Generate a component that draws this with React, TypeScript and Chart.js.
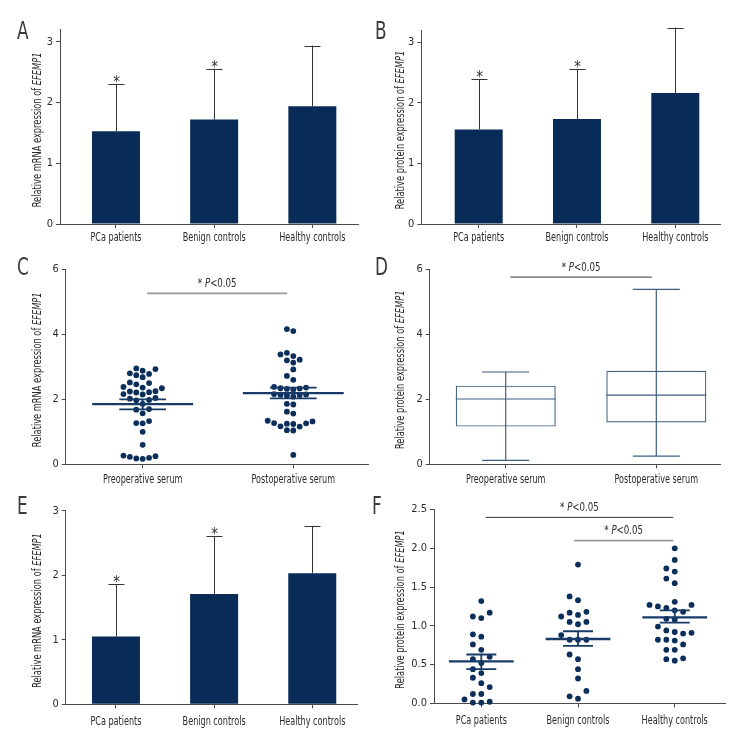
import React, { useEffect, useRef } from "react";
import { Chart, registerables } from "chart.js";
Chart.register(...registerables);

const FAMILY = '"Liberation Sans Narrow", "DejaVu Sans Condensed", "Open Sans", sans-serif';
const TEXT = "#2b2b2b";
const AXIS = "#4a4a4a";
const NAVY = "#082c57";
const DOT = "#0b2e5a";
const LINE_NAVY = "#173b66";
const BOX = "#3c5d80";
const GRAY = "#9a9a9a";

// ---------- data ----------
const CATS3 = ["PCa patients", "Benign controls", "Healthy controls"];
const CATS2 = ["Preoperative serum", "Postoperative serum"];

const A_MEAN = [1.53, 1.72, 1.94];
const A_SD_TOP = [2.31, 2.56, 2.94];
const A_STAR = [true, true, false];

const B_MEAN = [1.56, 1.73, 2.16];
const B_SD_TOP = [2.39, 2.56, 3.24];
const B_STAR = [true, true, false];

const C_PRE = [2.95, 2.93, 2.88, 2.8, 2.78, 2.74, 2.68, 2.52, 2.5, 2.46, 2.38, 2.36, 2.34, 2.25, 2.24, 2.22, 2.21, 2.16, 2.15, 2.04, 2.02, 1.98, 1.97, 1.86, 1.7, 1.68, 1.57, 1.33, 1.27, 1.26, 1.0, 0.6, 0.27, 0.25, 0.23, 0.2, 0.18, 0.17];
const C_POST = [4.16, 4.1, 3.43, 3.38, 3.33, 3.22, 3.2, 3.13, 2.92, 2.72, 2.6, 2.38, 2.36, 2.34, 2.33, 2.32, 2.3, 2.16, 2.15, 2.14, 2.13, 2.12, 2.08, 1.86, 1.84, 1.62, 1.56, 1.34, 1.32, 1.27, 1.26, 1.25, 1.24, 1.17, 1.16, 1.05, 1.04, 0.29];
const C_MEAN = [1.85, 2.19];
const C_SEM_LOW = [1.69, 2.03];
const C_SEM_HIGH = [2.0, 2.36];

const D_MIN = [0.12, 0.25];
const D_Q1 = [1.16, 1.29];
const D_MEDIAN = [2.01, 2.13];
const D_Q3 = [2.42, 2.88];
const D_MAX = [2.84, 5.38];

const E_MEAN = [1.05, 1.71, 2.03];
const E_SD_TOP = [1.86, 2.61, 2.76];
const E_STAR = [true, true, false];

const F_PCA = [1.32, 1.17, 1.12, 1.1, 0.89, 0.86, 0.76, 0.69, 0.6, 0.57, 0.52, 0.44, 0.39, 0.33, 0.26, 0.21, 0.12, 0.12, 0.05, 0.02, 0.01, 0.01];
const F_BENIGN = [1.79, 1.38, 1.33, 1.18, 1.17, 1.14, 1.12, 1.05, 1.05, 1.02, 0.88, 0.82, 0.82, 0.82, 0.63, 0.57, 0.44, 0.32, 0.16, 0.09, 0.06];
const F_HEALTHY = [2.0, 1.85, 1.74, 1.7, 1.61, 1.55, 1.31, 1.27, 1.27, 1.25, 1.23, 1.2, 1.18, 1.09, 1.08, 0.99, 0.94, 0.92, 0.91, 0.9, 0.82, 0.82, 0.81, 0.76, 0.69, 0.69, 0.58, 0.57, 0.55];
const F_MEAN = [0.54, 0.83, 1.11];
const F_SEM_LOW = [0.44, 0.74, 1.04];
const F_SEM_HIGH = [0.63, 0.93, 1.2];

const TICKS_3 = [0, 1, 2, 3];
const TICKS_6 = [0, 2, 4, 6];
const TICKS_F = [0, 0.5, 1, 1.5, 2, 2.5];

const LABEL_MRNA = "Relative mRNA expression of ";
const LABEL_PROTEIN = "Relative protein expression of ";
const GENE = "EFEMP1";
const SIG_TEXT = "P<0.05";

// ---------- layout ----------
type Rect = { x: number; y: number; w: number; h: number };
type Area = { l: number; t: number; r: number; b: number };
type Sig = { from: number; to: number; y: number; color: string; width: number };

interface Panel {
  letter: string;
  letterPos: [number, number];
  canvas: Rect;
  area: Area;
  xMin: number;
  xMax: number;
  yMin: number;
  yMax: number;
  yTicks: number[];
  yFmt: (v: number) => string;
  cats: string[];
  xLabelOffset: number;
  yLabel: string;
  labelX: number;
  kind: "bar" | "dot" | "box";
  mean?: number[];
  sdTop?: number[];
  star?: boolean[];
  groups?: number[][];
  semLow?: number[];
  semHigh?: number[];
  swarmD?: number;
  sigs?: Sig[];
}

const PANELS: Panel[] = [
  {
    letter: "A", letterPos: [17, 19],
    canvas: { x: 0, y: 0, w: 378, h: 250 }, area: { l: 60, t: 29.8, r: 358, b: 224 },
    xMin: -0.57, xMax: 2.465, yMin: 0, yMax: 3.2, yTicks: TICKS_3, yFmt: (v) => String(v),
    cats: CATS3, xLabelOffset: 13.5, yLabel: LABEL_MRNA, labelX: 38, kind: "bar",
    mean: A_MEAN, sdTop: A_SD_TOP, star: A_STAR,
  },
  {
    letter: "B", letterPos: [375, 19],
    canvas: { x: 378, y: 0, w: 378, h: 250 }, area: { l: 421.3, t: 30, r: 720, b: 224 },
    xMin: -0.584, xMax: 2.455, yMin: 0, yMax: 3.2, yTicks: TICKS_3, yFmt: (v) => String(v),
    cats: CATS3, xLabelOffset: 13.5, yLabel: LABEL_PROTEIN, labelX: 401, kind: "bar",
    mean: B_MEAN, sdTop: B_SD_TOP, star: B_STAR,
  },
  {
    letter: "C", letterPos: [17, 255],
    canvas: { x: 0, y: 250, w: 378, h: 250 }, area: { l: 65.7, t: 269.3, r: 368, b: 464.3 },
    xMin: -0.511, xMax: 1.496, yMin: 0, yMax: 6, yTicks: TICKS_6, yFmt: (v) => String(v),
    cats: CATS2, xLabelOffset: 15.5, yLabel: LABEL_MRNA, labelX: 38, kind: "dot",
    groups: [C_PRE, C_POST], mean: C_MEAN, semLow: C_SEM_LOW, semHigh: C_SEM_HIGH, swarmD: 6.4,
    sigs: [{ from: 0.03, to: 0.96, y: 5.26, color: GRAY, width: 1.6 }],
  },
  {
    letter: "D", letterPos: [375, 255],
    canvas: { x: 378, y: 250, w: 378, h: 250 }, area: { l: 429.7, t: 269.3, r: 720, b: 464.3 },
    xMin: -0.505, xMax: 1.423, yMin: 0, yMax: 6, yTicks: TICKS_6, yFmt: (v) => String(v),
    cats: CATS2, xLabelOffset: 15.5, yLabel: LABEL_PROTEIN, labelX: 401, kind: "box",
    sigs: [{ from: 0.03, to: 0.97, y: 5.76, color: "#333333", width: 1 }],
  },
  {
    letter: "E", letterPos: [17, 494],
    canvas: { x: 0, y: 500, w: 378, h: 256 }, area: { l: 65.7, t: 510.7, r: 357.7, b: 704.3 },
    xMin: -0.512, xMax: 2.463, yMin: 0, yMax: 3, yTicks: TICKS_3, yFmt: (v) => String(v),
    cats: CATS3, xLabelOffset: 17.5, yLabel: LABEL_MRNA, labelX: 38, kind: "bar",
    mean: E_MEAN, sdTop: E_SD_TOP, star: E_STAR,
  },
  {
    letter: "F", letterPos: [372, 494],
    canvas: { x: 378, y: 500, w: 378, h: 256 }, area: { l: 434, t: 509.3, r: 725.7, b: 703.3 },
    xMin: -0.489, xMax: 2.527, yMin: 0, yMax: 2.5, yTicks: TICKS_F, yFmt: (v) => v.toFixed(1),
    cats: CATS3, xLabelOffset: 17.5, yLabel: LABEL_PROTEIN, labelX: 401, kind: "dot",
    groups: [F_PCA, F_BENIGN, F_HEALTHY], mean: F_MEAN, semLow: F_SEM_LOW, semHigh: F_SEM_HIGH, swarmD: 8.4,
    sigs: [
      { from: 0.045, to: 1.985, y: 2.4, color: "#333333", width: 1 },
      { from: 0.96, to: 1.985, y: 2.1, color: GRAY, width: 1.6 },
    ],
  },
];

// beeswarm layout: horizontal offsets (in x units) so that dots don't overlap
function swarm(values: number[], pxPerY: number, pxPerX: number, d: number): number[] {
  const order = values.map((_, i) => i).sort((a, b) => values[a] - values[b]);
  const placed: { x: number; y: number }[] = [];
  const off = new Array(values.length).fill(0);
  for (const i of order) {
    const y = values[i] * pxPerY;
    for (let k = 0; k < 60; k++) {
      const cand = k === 0 ? 0 : (k % 2 ? -1 : 1) * Math.ceil(k / 2) * d;
      if (placed.every((p) => Math.hypot(p.x - cand, p.y - y) >= d - 0.01)) {
        off[i] = cand / pxPerX;
        placed.push({ x: cand, y });
        break;
      }
    }
  }
  return off;
}

function font(size: number, italic = false) {
  return `${italic ? "italic " : ""}${size}px ${FAMILY}`;
}

// draws (optionally mixed-style) text centred at (cx, cy), horizontally condensed by sx
function drawMixed(
  ctx: CanvasRenderingContext2D,
  parts: { t: string; it: boolean }[],
  size: number,
  cx: number,
  cy: number,
  sx: number
) {
  ctx.save();
  ctx.translate(cx, cy);
  ctx.scale(sx, 1);
  const widths = parts.map((p) => {
    ctx.font = font(size, p.it);
    return ctx.measureText(p.t).width;
  });
  const total = widths.reduce((a, b) => a + b, 0);
  let x = -total / 2;
  ctx.textBaseline = "middle";
  ctx.textAlign = "left";
  parts.forEach((p, i) => {
    ctx.font = font(size, p.it);
    ctx.fillText(p.t, x, 0);
    x += widths[i];
  });
  ctx.restore();
}

function buildConfig(p: Panel): any {
  const pxPerY = (p.area.b - p.area.t) / (p.yMax - p.yMin);
  const pxPerX = (p.area.r - p.area.l) / (p.xMax - p.xMin);
  let type = "bar";
  let datasets: any[] = [];
  if (p.kind === "bar") {
    datasets = [{
      data: (p.mean || []).map((v, i) => ({ x: i, y: v })),
      backgroundColor: NAVY,
      borderWidth: 0,
      barPercentage: 48 / pxPerX,
      categoryPercentage: 1,
    }];
  } else if (p.kind === "box") {
    datasets = [{
      data: D_Q1.map((q1, i) => ({ x: i, y: [q1, D_Q3[i]] })),
      backgroundColor: "rgba(0,0,0,0)",
      borderColor: BOX,
      borderWidth: 1.2,
      borderSkipped: false,
      barPercentage: 100 / pxPerX,
      categoryPercentage: 1,
    }];
  } else {
    type = "scatter";
    datasets = (p.groups || []).map((vals, gi) => {
      const off = swarm(vals, pxPerY, pxPerX, p.swarmD || 7);
      return {
        data: vals.map((v, k) => ({ x: gi + off[k], y: v })),
        pointRadius: 2.9,
        pointBackgroundColor: DOT,
        pointBorderWidth: 0,
        pointHoverRadius: 2.9,
        showLine: false,
        clip: false,
      };
    });
  }

  const extras = {
    id: "extras" + p.letter,
    afterDatasetsDraw(chart: any) {
      const { ctx } = chart;
      const xs = chart.scales.x;
      const ys = chart.scales.y;
      const X = (v: number) => xs.getPixelForValue(v);
      const Y = (v: number) => ys.getPixelForValue(v);
      const area = chart.chartArea;
      ctx.save();
      if (p.kind === "bar" && p.mean && p.sdTop) {
        ctx.strokeStyle = "#333333";
        ctx.lineWidth = 1;
        p.mean.forEach((m, i) => {
          const top = p.sdTop![i];
          const cx = Math.round(X(i)) + 0.5;
          ctx.beginPath();
          ctx.moveTo(cx, Y(m));
          ctx.lineTo(cx, Y(top));
          ctx.moveTo(cx - 8, Math.round(Y(top)) + 0.5);
          ctx.lineTo(cx + 8, Math.round(Y(top)) + 0.5);
          ctx.stroke();
          if (p.star && p.star[i]) {
            ctx.fillStyle = "#333333";
            ctx.font = font(15);
            ctx.textAlign = "center";
            ctx.textBaseline = "alphabetic";
            ctx.fillText("*", cx, Y(top) + 3);
          }
        });
      }
      if (p.kind === "dot" && p.mean) {
        ctx.strokeStyle = LINE_NAVY;
        p.mean.forEach((m, i) => {
          const lo = p.semLow![i];
          const hi = p.semHigh![i];
          ctx.lineWidth = 2.3;
          ctx.beginPath();
          ctx.moveTo(X(i - 0.335), Y(m));
          ctx.lineTo(X(i + 0.335), Y(m));
          ctx.stroke();
          ctx.lineWidth = 1.8;
          ctx.beginPath();
          ctx.moveTo(X(i - 0.155), Y(lo));
          ctx.lineTo(X(i + 0.155), Y(lo));
          ctx.moveTo(X(i - 0.155), Y(hi));
          ctx.lineTo(X(i + 0.155), Y(hi));
          ctx.moveTo(X(i), Y(lo));
          ctx.lineTo(X(i), Y(hi));
          ctx.stroke();
        });
      }
      if (p.kind === "box") {
        ctx.strokeStyle = BOX;
        ctx.lineWidth = 1.2;
        D_MIN.forEach((mn, i) => {
          const cx = X(i);
          const half = 50;
          const cap = 23.5;
          ctx.beginPath();
          ctx.moveTo(cx, Y(D_MAX[i]));
          ctx.lineTo(cx, Y(mn));
          ctx.moveTo(cx - cap, Y(D_MAX[i]));
          ctx.lineTo(cx + cap, Y(D_MAX[i]));
          ctx.moveTo(cx - cap, Y(mn));
          ctx.lineTo(cx + cap, Y(mn));
          ctx.moveTo(cx - half, Y(D_MEDIAN[i]));
          ctx.lineTo(cx + half, Y(D_MEDIAN[i]));
          ctx.stroke();
        });
      }
      ctx.fillStyle = TEXT;
      (p.sigs || []).forEach((s) => {
        ctx.strokeStyle = s.color;
        ctx.lineWidth = s.width;
        const yy = Y(s.y);
        ctx.beginPath();
        ctx.moveTo(X(s.from), yy);
        ctx.lineTo(X(s.to), yy);
        ctx.stroke();
        drawMixed(
          ctx,
          [{ t: "* ", it: false }, { t: "P", it: true }, { t: SIG_TEXT.slice(1), it: false }],
          12,
          (X(s.from) + X(s.to)) / 2,
          yy - 9.5,
          0.8
        );
      });
      // category labels (condensed) under the x axis, at the scale's tick positions
      p.cats.forEach((c, i) => {
        drawMixed(ctx, [{ t: c, it: false }], 12.5, X(i), area.bottom + p.xLabelOffset, 0.72);
      });
      // y-axis title
      ctx.translate(p.labelX - p.canvas.x, (area.top + area.bottom) / 2 + 3);
      ctx.rotate(-Math.PI / 2);
      drawMixed(ctx, [{ t: p.yLabel, it: false }, { t: GENE, it: true }], 11.5, 0, 0, 0.8);
      ctx.restore();
    },
  };

  const grid = {
    display: true,
    drawOnChartArea: false,
    drawTicks: true,
    tickLength: 4,
    tickColor: AXIS,
    color: AXIS,
    lineWidth: 1,
    offset: false,
  };
  const border = { display: true, color: AXIS, width: 1 };

  return {
    type,
    data: { datasets },
    options: {
      responsive: false,
      animation: false,
      devicePixelRatio: 1,
      events: [],
      layout: {
        padding: {
          left: 0,
          top: p.area.t - p.canvas.y,
          right: p.canvas.x + p.canvas.w - p.area.r,
          bottom: 0,
        },
      },
      plugins: { legend: { display: false }, tooltip: { enabled: false }, title: { display: false } },
      scales: {
        x: {
          type: "linear",
          min: p.xMin,
          max: p.xMax,
          offset: false,
          afterBuildTicks: (s: any) => {
            s.ticks = p.cats.map((_, i) => ({ value: i }));
          },
          afterFit: (s: any) => {
            s.height = p.canvas.y + p.canvas.h - p.area.b;
          },
          ticks: { display: false },
          grid,
          border,
        },
        y: {
          type: "linear",
          min: p.yMin,
          max: p.yMax,
          afterBuildTicks: (s: any) => {
            s.ticks = p.yTicks.map((v) => ({ value: v }));
          },
          afterFit: (s: any) => {
            s.width = p.area.l - p.canvas.x;
          },
          ticks: {
            padding: 3,
            color: TEXT,
            font: { family: FAMILY, size: 11 },
            callback: (v: any) => p.yFmt(Number(v)),
          },
          grid,
          border,
        },
      },
    },
    plugins: [extras],
  };
}

function PanelChart({ panel }: { panel: Panel }) {
  const ref = useRef<HTMLCanvasElement | null>(null);
  useEffect(() => {
    if (!ref.current) return;
    const chart = new Chart(ref.current, buildConfig(panel));
    return () => chart.destroy();
  }, [panel]);
  return (
    <canvas
      ref={ref}
      width={panel.canvas.w}
      height={panel.canvas.h}
      style={{
        position: "absolute",
        left: panel.canvas.x,
        top: panel.canvas.y,
        width: panel.canvas.w,
        height: panel.canvas.h,
        display: "block",
      }}
    />
  );
}

export default function App() {
  return (
    <div
      style={{
        position: "fixed",
        left: 0,
        top: 0,
        width: 756,
        height: 756,
        background: "#ffffff",
        overflow: "hidden",
      }}
    >
      {PANELS.map((p) => (
        <PanelChart key={p.letter} panel={p} />
      ))}
      {PANELS.map((p) => (
        <div
          key={"L" + p.letter}
          style={{
            position: "absolute",
            left: p.letterPos[0],
            top: p.letterPos[1],
            fontFamily: FAMILY,
            fontSize: 24,
            lineHeight: "24px",
            color: "#3a3a3a",
            transform: "scaleX(0.78)",
            transformOrigin: "left top",
          }}
        >
          {p.letter}
        </div>
      ))}
    </div>
  );
}
